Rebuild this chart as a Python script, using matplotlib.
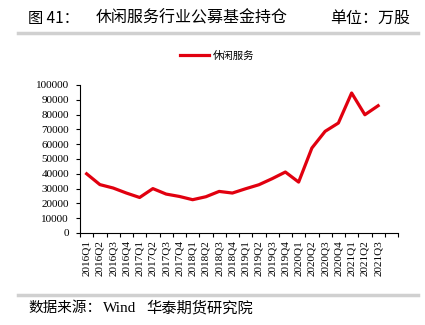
import numpy as np
import matplotlib
matplotlib.use("Agg")
import matplotlib.pyplot as plt
from matplotlib.lines import Line2D

plt.rcParams['font.family'] = ['Noto Sans CJK SC', 'DejaVu Sans']

# data (万股)
quarters = ["2016Q1", "2016Q2", "2016Q3", "2016Q4", "2017Q1", "2017Q2", "2017Q3", "2017Q4",
            "2018Q1", "2018Q2", "2018Q3", "2018Q4", "2019Q1", "2019Q2", "2019Q3", "2019Q4",
            "2020Q1", "2020Q2", "2020Q3", "2020Q4", "2021Q1", "2021Q2", "2021Q3"]
holdings = [40000, 32700, 30400, 27000, 24000, 30000, 26300, 24700,
            22500, 24500, 28100, 27000, 29900, 32600, 36700, 41200,
            34400, 57400, 68700, 74300, 94600, 79900, 86000]
series_name = "休闲服务"
yticks = np.arange(0, 100001, 10000)

red = "#e1000f"
serif = "Liberation Serif"

fig = plt.figure(figsize=(4.25, 3.25), dpi=100)
W, H = 425, 325

# axes placed by pixel box: left 80, right 398, top 85, bottom 233
ax = fig.add_axes([80 / W, 1 - 233 / H, (398 - 80) / W, (233 - 85) / H])
x = np.arange(len(quarters))
ax.plot(x, holdings, color=red, lw=2.3, solid_joinstyle="round")

ax.set_xlim(-0.5, len(quarters) + 0.5)
ax.set_ylim(0, 100000)
ax.set_yticks(yticks)
ax.set_yticklabels([str(v) for v in yticks], fontfamily=serif, fontsize=8)
ax.set_xticks(x)
ax.set_xticklabels(quarters, rotation=90, fontfamily=serif, fontsize=8)
ax.tick_params(axis="x", length=0, pad=5)
ax.set_xticks(np.arange(-0.5, len(quarters) + 1), minor=True)
ax.tick_params(axis="x", which="minor", length=3, width=0.8, direction="out")
ax.tick_params(axis="y", length=3, width=0.8, direction="out", pad=5)
for s in ["top", "right"]:
    ax.spines[s].set_visible(False)
for s in ["left", "bottom"]:
    ax.spines[s].set_linewidth(0.8)

# legend
fig.legend(handles=[Line2D([0], [0], color=red, lw=2.3)], labels=[series_name],
           loc="center", bbox_to_anchor=(217 / W, 1 - 56 / H), frameon=False,
           fontsize=7.5, handlelength=2.8, handletextpad=0.3)

# header / footer
fig.text(28 / W, 1 - 18 / H, "图 41：", fontsize=11, va="center")
fig.text(96 / W, 1 - 18 / H, "休闲服务行业公募基金持仓", fontsize=11.5, va="center")
fig.text(410 / W, 1 - 18 / H, "单位：万股", fontsize=11.5, va="center", ha="right")
fig.add_artist(Line2D([18 / W, 418 / W], [1 - 33 / H, 1 - 33 / H], color="#d0d0d0", lw=2.5))
fig.add_artist(Line2D([18 / W, 418 / W], [1 - 295 / H, 1 - 295 / H], color="#d0d0d0", lw=2.5))
fig.text(28 / W, 1 - 308 / H, "数据来源：", fontsize=10.5, va="center")
fig.text(103 / W, 1 - 308 / H, "Wind", fontsize=11, va="center", fontfamily=serif)
fig.text(146 / W, 1 - 308 / H, "华泰期货研究院", fontsize=11, va="center")

fig.savefig("out.png", dpi=100)
